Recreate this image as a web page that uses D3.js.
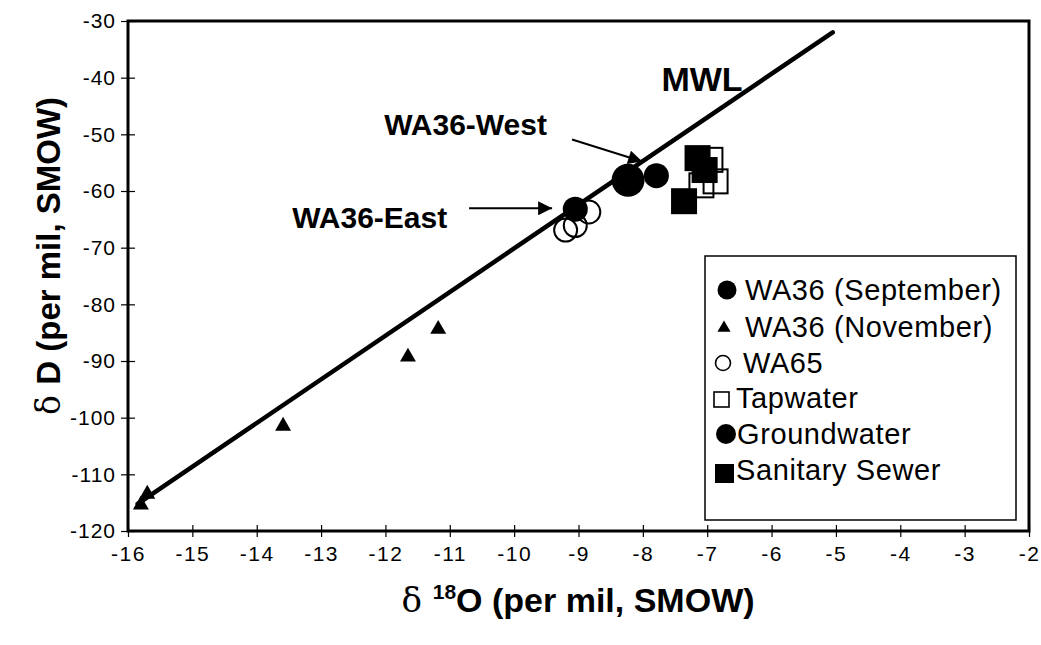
<!DOCTYPE html>
<html><head><meta charset="utf-8">
<script src="https://cdn.jsdelivr.net/npm/d3@7"></script>
<style>body{margin:0;background:#fff}svg{display:block}</style>
</head><body>
<svg id="chart" width="1041" height="645"></svg>
<script>
// ---- data ----
const xTicks = [-16,-15,-14,-13,-12,-11,-10,-9,-8,-7,-6,-5,-4,-3,-2];
const yTicks = [-30,-40,-50,-60,-70,-80,-90,-100,-110,-120];
const wa36SepX = [-9.05, -7.79];
const wa36SepY = [-63.2, -57.3];
const wa36NovX = [-15.8, -15.7, -13.59, -11.65, -11.18];
const wa36NovY = [-115.2, -113.3, -101.3, -89.1, -84.2];
const wa65X = [-9.2, -9.05, -8.84];
const wa65Y = [-66.9, -66.1, -63.7];
const tapX = [-6.95, -6.87, -7.09];
const tapY = [-54.5, -58.3, -59.0];
const groundX = [-8.23];
const groundY = [-58.1];
const sewerX = [-7.36, -7.15, -7.04];
const sewerY = [-61.8, -54.2, -56.3];
const mwlX = [-15.85, -5.05];
const mwlY = [-115.2, -32.0];
const legendLabels = ["WA36 (September)","WA36 (November)","WA65","Tapwater","Groundwater","Sanitary Sewer"];

// ---- layout ----
const svg = d3.select("#chart");
const L = 128, R = 1029, T = 21, B = 531;
const x = d3.scaleLinear().domain([-16,-2]).range([L,R]);
const y = d3.scaleLinear().domain([-120,-30]).range([B,T]);
const FONT = "'Liberation Sans', Arial, Helvetica, sans-serif";
const fmt = d => String(d);

// axes
const xAxis = d3.axisBottom(x).tickValues(xTicks).tickSizeInner(6).tickSizeOuter(0).tickPadding(9).tickFormat(fmt);
const gx = svg.append("g").attr("transform",`translate(0,${B})`).call(xAxis);
gx.selectAll(".tick line").attr("y1",-6).attr("y2",6).attr("stroke","#000").attr("stroke-width",1.2);
gx.select(".domain").remove();
gx.selectAll("text").attr("font-family",FONT).attr("font-size",21).attr("letter-spacing","1.5px").attr("fill","#000");

const yAxis = d3.axisLeft(y).tickValues(yTicks).tickSizeInner(7).tickSizeOuter(0).tickPadding(5).tickFormat(fmt);
const gy = svg.append("g").attr("transform",`translate(${L},0)`).call(yAxis);
gy.selectAll(".tick line").attr("x1",-7).attr("x2",7).attr("stroke","#000").attr("stroke-width",1.2);
gy.select(".domain").remove();
gy.selectAll("text").attr("font-family",FONT).attr("font-size",21).attr("letter-spacing","1px").attr("fill","#000");

// frame
svg.append("rect").attr("x",L).attr("y",T).attr("width",R-L).attr("height",B-T)
  .attr("fill","none").attr("stroke","#000").attr("stroke-width",3);

// markers
const plot = svg.append("g");
function pts(xs, ys){ return xs.map((v,i)=>({x:v,y:ys[i]})); }
const sym = (type,size)=>d3.symbol().type(type).size(size);

plot.selectAll(".sep").data(pts(wa36SepX,wa36SepY)).join("circle")
  .attr("cx",d=>x(d.x)).attr("cy",d=>y(d.y)).attr("r",12.5).attr("fill","#000");
plot.selectAll(".nov").data(pts(wa36NovX,wa36NovY)).join("path")
  .attr("transform",d=>`translate(${x(d.x)},${y(d.y)+1})`).attr("d",sym(d3.symbolTriangle,110)()).attr("fill","#000");
plot.selectAll(".wa65").data(pts(wa65X,wa65Y)).join("circle")
  .attr("cx",d=>x(d.x)).attr("cy",d=>y(d.y)).attr("r",11.5).attr("fill","none").attr("stroke","#000").attr("stroke-width",2);
plot.selectAll(".tap").data(pts(tapX,tapY)).join("rect")
  .attr("x",d=>x(d.x)-12).attr("y",d=>y(d.y)-12).attr("width",24).attr("height",24)
  .attr("fill","none").attr("stroke","#000").attr("stroke-width",2);
plot.selectAll(".gw").data(pts(groundX,groundY)).join("circle")
  .attr("cx",d=>x(d.x)).attr("cy",d=>y(d.y)).attr("r",16.5).attr("fill","#000");
plot.selectAll(".sew").data(pts(sewerX,sewerY)).join("rect")
  .attr("x",d=>x(d.x)-13).attr("y",d=>y(d.y)-13).attr("width",26).attr("height",26).attr("fill","#000");

// MWL line
plot.append("path").datum(pts(mwlX,mwlY))
  .attr("d",d3.line().x(d=>x(d.x)).y(d=>y(d.y)))
  .attr("stroke","#000").attr("stroke-width",4.5).attr("fill","none").attr("stroke-linecap","round");

// annotations
svg.append("defs").append("marker").attr("id","ah").attr("viewBox","0 0 10 10")
  .attr("refX",10).attr("refY",5).attr("markerWidth",26).attr("markerHeight",14)
  .attr("markerUnits","userSpaceOnUse").attr("orient","auto")
  .append("path").attr("d","M0,0 L10,5 L0,10 Z").attr("fill","#000");
function arrow(x1,y1,x2,y2){
  svg.append("line").attr("x1",x(x1)).attr("y1",y(y1)).attr("x2",x(x2)).attr("y2",y(y2))
    .attr("stroke","#000").attr("stroke-width",2).attr("marker-end","url(#ah)");
}
arrow(-9.10,-50.9,-8.01,-54.8);
arrow(-10.70,-63.05,-9.41,-63.05);
function label(txt, xv, yv, size){
  svg.append("text").attr("x",x(xv)).attr("y",y(yv)).attr("text-anchor","end")
    .attr("font-family",FONT).attr("font-weight","bold").attr("font-size",size).attr("fill","#000").text(txt);
}
label("MWL", -6.45, -42.4, 34);
label("WA36-West", -9.49, -50.2, 30);
label("WA36-East", -11.04, -66.5, 30);

// axis titles
const xt = svg.append("text").attr("x",578).attr("y",612).attr("text-anchor","middle")
  .attr("font-family",FONT).attr("font-weight","bold").attr("font-size",34).attr("fill","#000");
xt.append("tspan").attr("font-weight","normal").attr("font-family","'DejaVu Serif', serif").text("δ ");
xt.append("tspan").attr("font-size",21).attr("dy",-13).text("18");
xt.append("tspan").attr("dy",13).text("O (per mil, SMOW)");

const yt = svg.append("text").attr("transform","translate(60,256) rotate(-90)").attr("text-anchor","middle")
  .attr("font-family",FONT).attr("font-weight","bold").attr("font-size",33).attr("fill","#000");
yt.append("tspan").attr("font-weight","normal").attr("font-family","'DejaVu Serif', serif").text("δ ");
yt.append("tspan").text("D (per mil, SMOW)");

// legend
const lg = svg.append("g");
lg.append("rect").attr("x",705).attr("y",256).attr("width",311).attr("height",264)
  .attr("fill","#fff").attr("stroke","#000").attr("stroke-width",1.5);
const rowY = [290, 327, 363, 398, 434, 470];
const legMarks = [
  g=>g.append("circle").attr("cx",727).attr("r",9.5).attr("fill","#000"),
  g=>g.append("path").attr("transform","translate(724,1)").attr("d",sym(d3.symbolTriangle,75)()).attr("fill","#000"),
  g=>g.append("circle").attr("cx",723).attr("r",7.5).attr("fill","none").attr("stroke","#000").attr("stroke-width",1.6),
  g=>g.append("rect").attr("x",714).attr("y",-6).attr("width",15).attr("height",15).attr("fill","none").attr("stroke","#000").attr("stroke-width",1.6),
  g=>g.append("circle").attr("cx",726).attr("r",10).attr("fill","#000"),
  g=>g.append("rect").attr("x",715).attr("y",-6).attr("width",19).attr("height",19).attr("fill","#000")
];
const textX = [745, 745, 743, 736, 737, 736];
legendLabels.forEach((t,i)=>{
  const g = lg.append("g").attr("transform",`translate(0,${rowY[i]})`);
  legMarks[i](g);
  g.append("text").attr("x",textX[i]).attr("y",10).attr("font-family",FONT).attr("font-size",29)
    .attr("letter-spacing","0.6px").attr("fill","#000").text(t);
});
</script>
</body></html>
